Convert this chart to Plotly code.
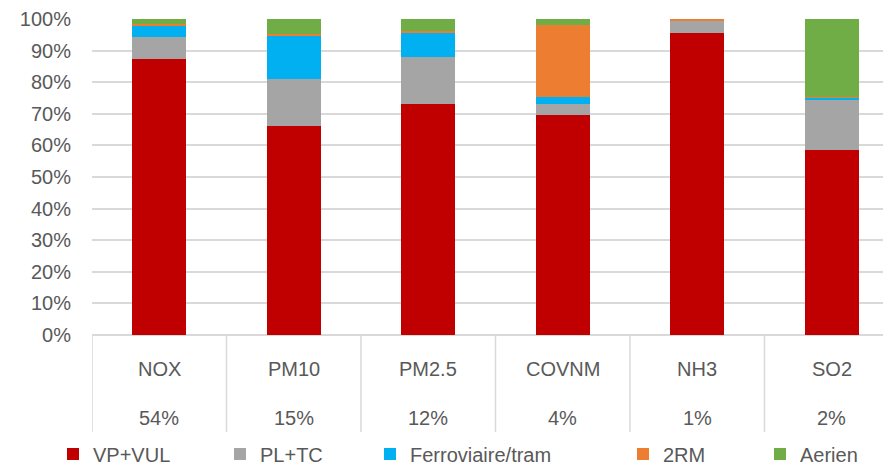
import plotly.graph_objects as go

categories = ["NOX", "PM10", "PM2.5", "COVNM", "NH3", "SO2"]
shares = ["54%", "15%", "12%", "4%", "1%", "2%"]

vp_vul = [0.873, 0.661, 0.732, 0.696, 0.955, 0.585]
pl_tc = [0.070, 0.149, 0.147, 0.034, 0.040, 0.160]
ferro = [0.036, 0.139, 0.079, 0.024, 0.000, 0.006]
deux_rm = [0.005, 0.003, 0.003, 0.226, 0.005, 0.003]
aerien = [0.016, 0.048, 0.039, 0.020, 0.000, 0.246]

series = [
    ("VP+VUL", vp_vul, "#C00000"),
    ("PL+TC", pl_tc, "#A5A5A5"),
    ("Ferroviaire/tram", ferro, "#00B0F0"),
    ("2RM", deux_rm, "#ED7D31"),
    ("Aerien", aerien, "#70AD47"),
]

FONT = "Liberation Sans"
GREY = "#595959"
LINE = "#D9D9D9"

OFF = 8  # page body margin offset
W, H = 891, 468
# target positions in screenshot pixels
S_L, S_T, S_B = 92, 19, 335
PLOT_L, PLOT_T, PLOT_B = S_L - OFF, S_T - OFF, S_B - OFF
PLOT_R = W
pw = PLOT_R - PLOT_L
ph = PLOT_B - PLOT_T

# legend text left-edge screenshot positions
legend_text_px = [93, 260, 410, 663, 800]

fig = go.Figure()
for i, (name, vals, col) in enumerate(series):
    lname = "legend" if i == 0 else f"legend{i+1}"
    fig.add_trace(go.Bar(
        x=categories, y=vals, name=name, marker_color=col,
        marker_line_width=0, width=0.4, legend=lname,
    ))

layout_legends = {}
for i, tx in enumerate(legend_text_px):
    lname = "legend" if i == 0 else f"legend{i+1}"
    layout_legends[lname] = dict(
        x=(tx - 40 - S_L) / pw, y=(S_B - 454) / ph,
        xanchor="left", yanchor="middle", orientation="h",
        font=dict(family=FONT, size=20, color=GREY),
        bgcolor="rgba(0,0,0,0)", itemwidth=30, borderwidth=0,
    )

annotations = []
for c, s in zip(categories, shares):
    annotations.append(dict(x=c, y=(S_B - 369) / ph, xref="x", yref="paper",
                            text=c, showarrow=False, yanchor="middle",
                            font=dict(family=FONT, size=20, color=GREY)))
    annotations.append(dict(x=c, y=(S_B - 418) / ph, xref="x", yref="paper",
                            text=s, showarrow=False, yanchor="middle",
                            font=dict(family=FONT, size=20, color=GREY)))

shapes = []
for i in range(len(categories) + 1):
    shapes.append(dict(type="line", xref="x", yref="paper",
                       x0=i - 0.5, x1=i - 0.5, y0=0, y1=(S_B - 432) / ph,
                       line=dict(color=LINE, width=1.5)))

fig.update_layout(
    barmode="stack",
    width=W, height=H,
    margin=dict(l=PLOT_L, r=W - PLOT_R, t=PLOT_T, b=H - PLOT_B, pad=0, autoexpand=False),
    plot_bgcolor="white", paper_bgcolor="white",
    showlegend=True,
    annotations=annotations,
    shapes=shapes,
    xaxis=dict(range=[-0.5, len(categories) - 0.5], showticklabels=False, showgrid=False,
               zeroline=False, showline=False, ticks=""),
    yaxis=dict(range=[0, 1], tickvals=[i / 10 for i in range(11)], tickformat=".0%",
               showgrid=True, gridcolor=LINE, gridwidth=1.5, zeroline=True,
               zerolinecolor=LINE, zerolinewidth=1.5, showline=False, ticks="",
               ticklabelstandoff=20,
               tickfont=dict(family=FONT, size=20, color=GREY)),
    **layout_legends,
)

fig.write_html("out.html")
